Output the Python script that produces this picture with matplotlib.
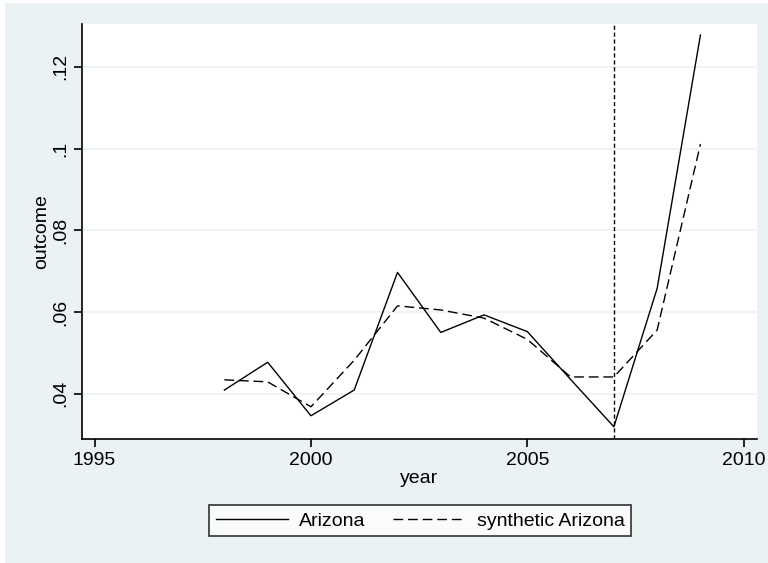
import matplotlib.pyplot as plt
from matplotlib.patches import Rectangle

years = [1998, 1999, 2000, 2001, 2002, 2003, 2004, 2005, 2006, 2007, 2008, 2009]
arizona = [0.0409, 0.0477, 0.0346, 0.0409, 0.0697, 0.0550, 0.0593, 0.0552,
           0.0435, 0.0319, 0.0658, 0.1278]
synthetic = [0.0434, 0.0429, 0.0368, 0.0482, 0.0615, 0.0605, 0.0585, 0.0533,
             0.0441, 0.0441, 0.0556, 0.1011]
treatment_year = 2007

x_ticks = [1995, 2000, 2005, 2010]
y_ticks = [0.04, 0.06, 0.08, 0.10, 0.12]
y_tick_labels = [".04", ".06", ".08", ".1", ".12"]

bg = "#eaf2f3"
plt.rcParams["font.family"] = ["Liberation Sans", "DejaVu Sans"]

fig = plt.figure(figsize=(7.68, 5.63), dpi=100)
fig.patch.set_facecolor("white")
# graph region background (stata s2color look)
fig.patches.append(Rectangle((5 / 768, -0.01), 1, 1.01 - 3 / 563, transform=fig.transFigure,
                             facecolor=bg, edgecolor="none", zorder=-10))

ax = fig.add_axes([82 / 768, 1 - 439.3 / 563, (756.7 - 82) / 768, (439.3 - 24) / 563])
ax.set_facecolor("white")

ax.plot(years, arizona, color="black", lw=1.0, label="Arizona")
ax.plot(years, synthetic, color="black", lw=1.0, dashes=(7, 3.5), label="synthetic Arizona")
ax.axvline(treatment_year, color="black", lw=1.0, dashes=(3, 2))

ax.set_xlim(1994.71, 2010.3)
ax.set_ylim(0.02884, 0.1305)
ax.set_xticks(x_ticks)
ax.set_yticks(y_ticks)
ax.set_yticklabels(y_tick_labels, rotation=90, va="center")
ax.yaxis.grid(True, color=bg, lw=1.2)
ax.set_axisbelow(True)

for side in ["top", "right"]:
    ax.spines[side].set_visible(False)
for side in ["left", "bottom"]:
    ax.spines[side].set_linewidth(1.2)
ax.tick_params(axis="both", direction="out", length=6, width=1.2, labelsize=14, pad=3)

ax.set_xlabel("year", fontsize=14, labelpad=1)
ax.set_ylabel("outcome", fontsize=14, labelpad=2)

leg = fig.legend(loc="center", bbox_to_anchor=(420 / 768, 1 - 520.7 / 563), ncol=2,
                 fontsize=14, frameon=True, fancybox=False, handlelength=3.7,
                 handletextpad=0.6, columnspacing=1.4, borderpad=0.35)
leg.get_frame().set_edgecolor("black")
leg.get_frame().set_linewidth(1.2)
leg.get_frame().set_facecolor("white")

fig.savefig("out.png", dpi=100, facecolor=fig.get_facecolor())
